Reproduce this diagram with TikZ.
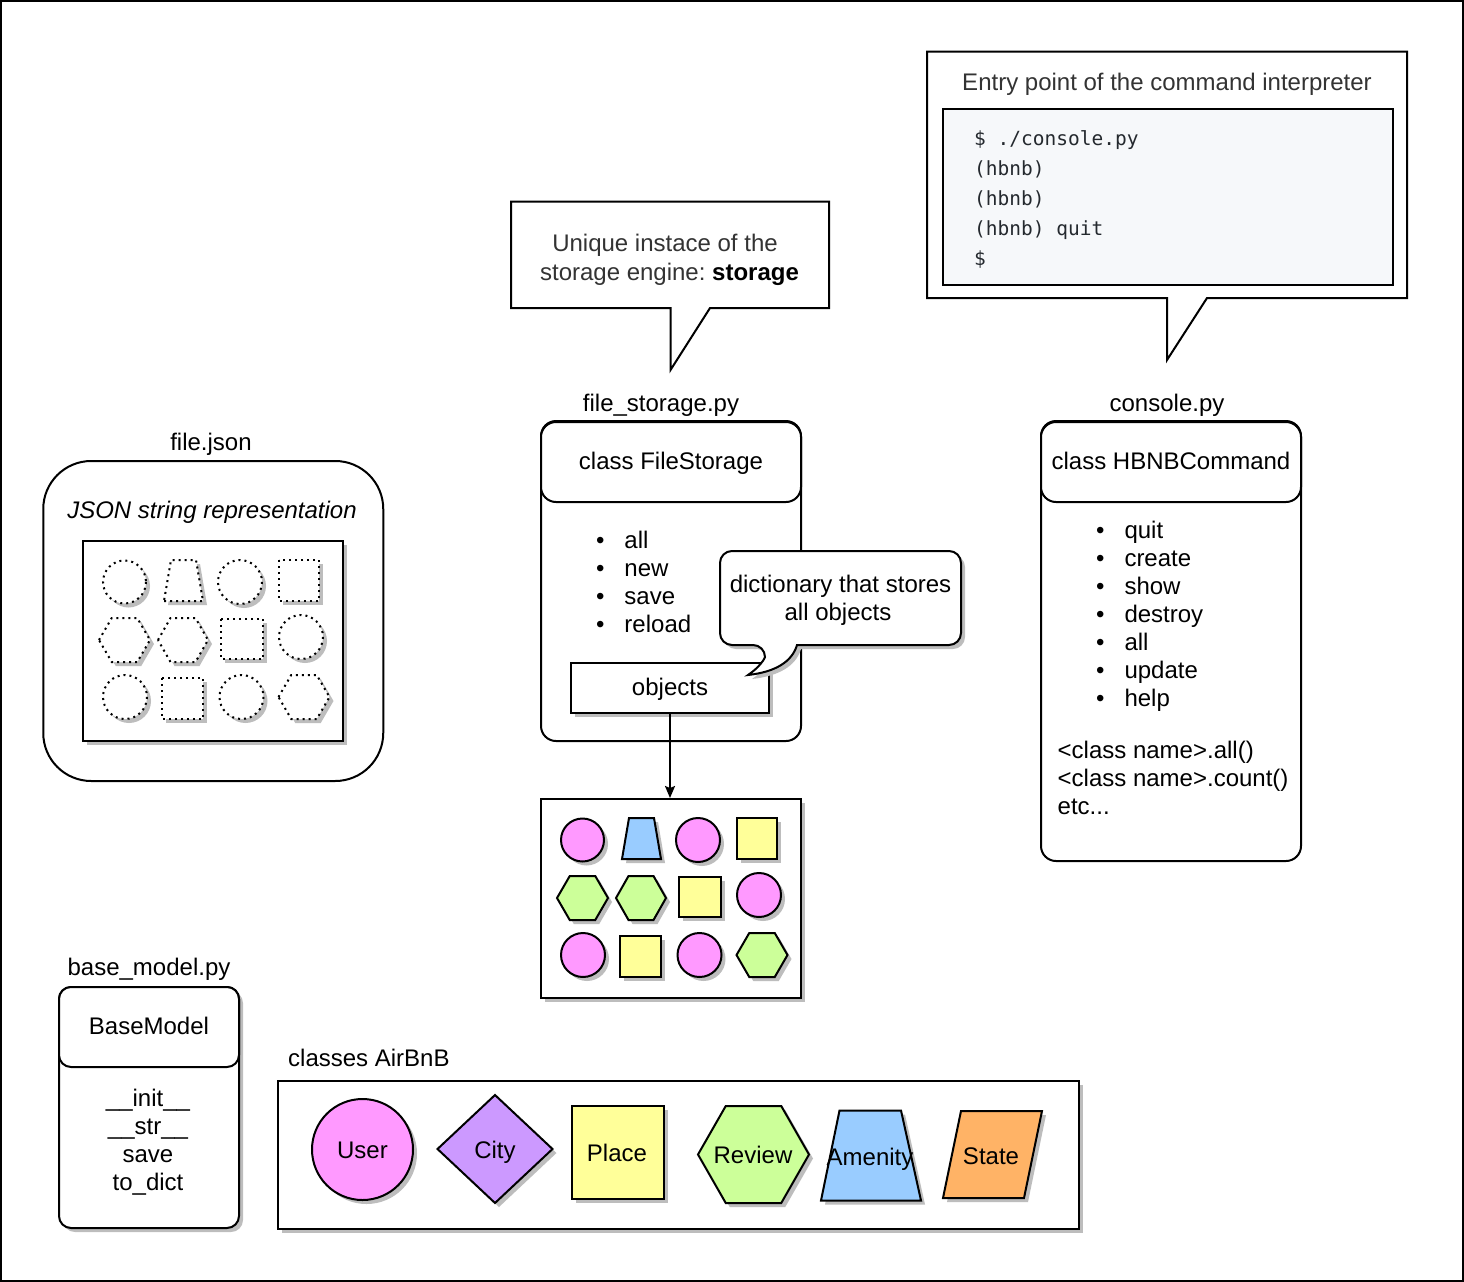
\documentclass[tikz,border=0pt]{standalone}
\usepackage{fontspec}
\setmainfont{Liberation Sans}
\setmonofont{DejaVu Sans Mono}
\usetikzlibrary{shadows,arrows.meta}
\frenchspacing
\definecolor{pinkc}{HTML}{FF99FF}
\definecolor{bluec}{HTML}{99CCFF}
\definecolor{yellowc}{HTML}{FFFF99}
\definecolor{greenc}{HTML}{CCFF99}
\definecolor{purplec}{HTML}{CC99FF}
\definecolor{orangec}{HTML}{FFB366}
\definecolor{codebg}{HTML}{F6F8FA}
\definecolor{greytext}{HTML}{333333}
\definecolor{codetext}{HTML}{24292E}
\definecolor{shadowc}{HTML}{BDBDBD}
\tikzset{
  ln/.style={line width=2pt},
  box/.style={ln, draw=black, fill=white},
  shad/.style={drop shadow={shadow xshift=4pt, shadow yshift=-4pt, fill=shadowc, opacity=1}},
  txt/.style={inner sep=0pt, font=\fontsize{24}{28}\selectfont, text height=20pt, text depth=5pt},
  codeline/.style={inner sep=0pt, anchor=west, font=\ttfamily\fontsize{19.5}{30}\selectfont, text=codetext, text height=15pt, text depth=4pt},
  fshape/.style={ln, draw=black},
  gpink/.style={fshape, fill=pinkc},
  gblue/.style={fshape, fill=bluec},
  gyellow/.style={fshape, fill=yellowc},
  ggreen/.style={fshape, fill=greenc},
  dots/.style={ln, draw=black, fill=white, dash pattern=on 2pt off 4pt},
  hdr/.style={box, txt, rounded corners=15pt, minimum height=80pt},
}
\newcommand{\shapegrid}[6]{%
\begin{scope}[shift={(#1,#2)}]
\path[#3,shad] (41.5,41) circle[radius=21.5];
\path[#4,shad] (81,60) -- (120,60) -- (113,19) -- (88,19) -- cycle;
\path[#3,shad] (157,41) circle[radius=22];
\path[#5,shad] (196,19) rectangle (236,60);
\path[#6,shad] (16,99) -- (28.75,77) -- (54.25,77) -- (67,99) -- (54.25,121) -- (28.75,121) -- cycle;
\path[#6,shad] (75,99) -- (87.5,77) -- (112.5,77) -- (125,99) -- (112.5,121) -- (87.5,121) -- cycle;
\path[#5,shad] (138,78) rectangle (180,118);
\path[#3,shad] (218,96) circle[radius=22];
\path[#3,shad] (42,156) circle[radius=22];
\path[#5,shad] (79,137) rectangle (120,178);
\path[#3,shad] (158.5,156) circle[radius=22];
\path[#6,shad] (195.5,156) -- (208.25,134) -- (233.75,134) -- (246.5,156) -- (233.75,178) -- (208.25,178) -- cycle;
\end{scope}}
\begin{document}
\begin{tikzpicture}[x=1pt,y=-1pt]
\useasboundingbox (0,0) rectangle (1464,1282);
\draw[line width=2pt] (1,1) rectangle (1462.5,1280.5);

% ---- top-right callout
\draw[box] (927,51.5) -- (1407,51.5) -- (1407,298) -- (1207,298) -- (1167,360) -- (1167,298) -- (927,298) -- cycle;
\node[txt, text=greytext] (entry) at (1167,83) {Entry point of the command interpreter};
\node[box, fill=codebg, minimum width=450pt, minimum height=176pt] (codebox) at (1168,197) {};
\node[codeline] (c1) at (974,140) {\$ ./console.py};
\node[codeline] (c2) at (974,170) {(hbnb)};
\node[codeline] (c3) at (974,200) {(hbnb)};
\node[codeline] (c4) at (974,230) {(hbnb) quit};
\node[codeline] (c5) at (974,260) {\$};

% ---- middle callout
\draw[box] (511,201.5) -- (829,201.5) -- (829,308) -- (710,308) -- (670.5,370) -- (670.5,308) -- (511,308) -- cycle;
\node[txt, text=greytext] (uniq1) at (665,244) {Unique instace of the};
\node[txt, text=greytext] (uniq2) at (669.5,273) {storage engine: \textcolor{black}{\textbf{storage}}};

% ---- labels
\node[txt] (lblfs) at (661,404) {file\_storage.py};
\node[txt] (lblcon) at (1167,404) {console.py};
\node[txt] (lbljson) at (211,443) {file.json};
\node[txt] (lblbm) at (149,968) {base\_model.py};
\node[txt, anchor=west] (lblair) at (288,1059) {classes AirBnB};

% ---- file.json
\node[box, rounded corners=48pt, minimum width=340pt, minimum height=320pt] (jsonbox) at (213.25,621) {};
\node[txt, font=\fontsize{24}{28}\selectfont\itshape] (jsontxt) at (212,511) {JSON string representation};
\node[box, shad, minimum width=260pt, minimum height=200pt] (jsonin) at (213,641) {};
\shapegrid{83}{541}{dots}{dots}{dots}{dots}

% ---- FileStorage
\node[box, rounded corners=15pt, minimum width=260pt, minimum height=320pt] (fsbody) at (671,581) {};
\node[hdr, minimum width=260pt] (fshead) at (671,462) {class FileStorage};
\foreach \t [count=\i from 0] in {all,new,save,reload}
  \node[txt, anchor=west] (fsm\i) at (595.8,{541+28*\i}) {\makebox[28.5pt][l]{\textbullet}\t};
\node[box, shad, txt, minimum width=198pt, minimum height=50pt] (objects) at (670,688) {objects};
\draw[box, shad] (797,645) [rounded corners=12pt] -- (961,645) -- (961,551) -- (720,551) -- (720,645) -- (765,645) [sharp corners] .. controls (765,658) and (760,667) .. (748,675) .. controls (775,672) and (792,662) .. (797,645) -- cycle;
\node[txt] (dict1) at (840.5,585) {dictionary that stores};
\node[txt] (dict2) at (838,613) {all objects};

% ---- objects box
\node[box, shad, minimum width=260pt, minimum height=199pt] (objbox) at (671,898.5) {};
\shapegrid{541}{799}{gpink}{gblue}{gyellow}{ggreen}
\draw[ln, -{Stealth[length=12pt, width=10pt, inset=2pt]}] (objects.south) -- (objects.south |- objbox.north);

% ---- HBNBCommand
\node[box, rounded corners=15pt, minimum width=260pt, minimum height=440pt] (hbbody) at (1171,641) {};
\node[hdr, minimum width=260pt] (hbhead) at (1171,462) {class HBNBCommand};
\foreach \t [count=\i from 0] in {quit,create,show,destroy,all,update,help}
  \node[txt, anchor=west] (hbm\i) at (1095.8,{531+28*\i}) {\makebox[28.5pt][l]{\textbullet}\t};
\node[txt, anchor=west] (hbx1) at (1057.5,751) {<class name>.all()};
\node[txt, anchor=west] (hbx2) at (1057.5,779) {<class name>.count()};
\node[txt, anchor=west] (hbx3) at (1057.5,807) {etc...};

% ---- BaseModel
\node[box, shad, rounded corners=12pt, minimum width=180pt, minimum height=241pt] (bmbody) at (149,1107.5) {};
\node[hdr, rounded corners=12pt, minimum width=180pt] (bmhead) at (149,1027) {BaseModel};
\node[txt] (bm1) at (148,1099) {\_\_init\_\_};
\node[txt] (bm2) at (148,1127) {\_\_str\_\_};
\node[txt] (bm3) at (148,1155) {save};
\node[txt] (bm4) at (148,1183) {to\_dict};

% ---- classes AirBnB
\node[box, shad, minimum width=801pt, minimum height=148pt] (airbox) at (678,1155) {};
\path[gpink, shad] (362.5,1149.5) circle[radius=50.5];
\path[fshape, fill=purplec, shad] (437.5,1149) -- (495,1095) -- (552.5,1149) -- (495,1203) -- cycle;
\path[gyellow, shad] (572,1106) rectangle (664,1199);
\path[ggreen, shad] (698,1154.5) -- (725.75,1106) -- (781.25,1106) -- (809,1154.5) -- (781.25,1203) -- (725.75,1203) -- cycle;
\path[gblue, shad] (821,1200.5) -- (921,1200.5) -- (901,1110.5) -- (839.5,1110.5) -- cycle;
\path[fshape, fill=orangec, shad] (943,1198) -- (1024,1198) -- (1042,1111) -- (961,1111) -- cycle;
\node[txt] (user) at (362.5,1151) {User};
\node[txt] (city) at (495,1151) {City};
\node[txt] (place) at (617,1154) {Place};
\node[txt] (review) at (753,1156) {Review};
\node[txt] (amenity) at (870,1158) {Amenity};
\node[txt] (state) at (991,1157) {State};
\end{tikzpicture}
\end{document}
